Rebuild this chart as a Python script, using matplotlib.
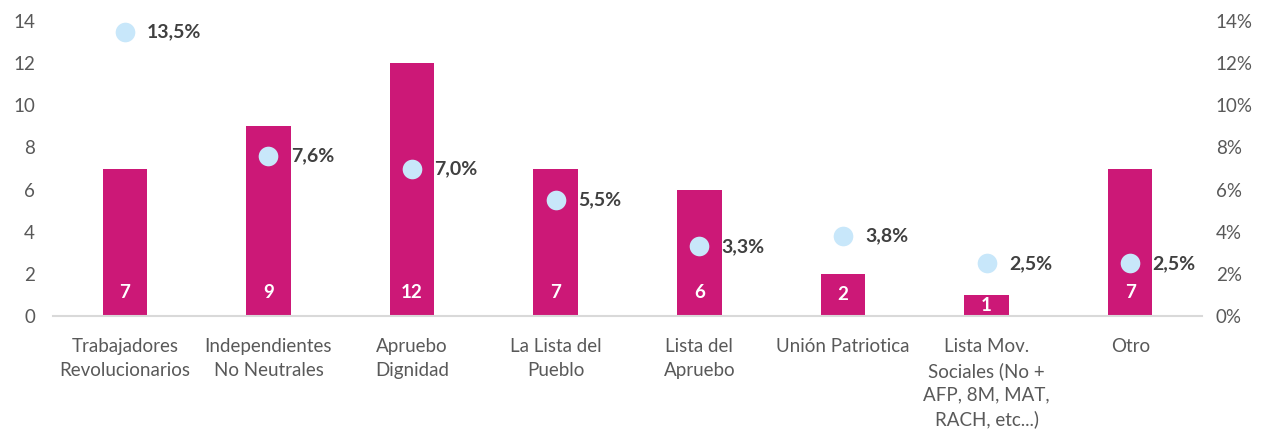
import matplotlib
matplotlib.use("Agg")
import matplotlib.pyplot as plt
import numpy as np

plt.rcParams['font.family'] = ['Lato', 'DejaVu Sans']

categories = ["Trabajadores\nRevolucionarios", "Independientes\nNo Neutrales", "Apruebo\nDignidad",
              "La Lista del\nPueblo", "Lista del\nApruebo", "Unión Patriotica",
              "Lista Mov.\nSociales (No +\nAFP, 8M, MAT,\nRACH, etc...)", "Otro"]
counts = [7, 9, 12, 7, 6, 2, 1, 7]
pcts = [13.5, 7.6, 7.0, 5.5, 3.3, 3.8, 2.5, 2.5]
pct_labels = ["13,5%", "7,6%", "7,0%", "5,5%", "3,3%", "3,8%", "2,5%", "2,5%"]

bar_color = "#CC1877"
dot_color = "#C8E7FA"
text_gray = "#595959"
label_dark = "#404040"

fig = plt.figure(figsize=(12.61, 4.30), dpi=100)
ax = fig.add_axes([53/1261, 1-316/430, (1202-53)/1261, (316-21)/430])
ax2 = ax.twinx()

x = np.arange(len(categories))
ax.bar(x, counts, width=0.31, color=bar_color, zorder=2)
for xi, v in zip(x, counts):
    ax.text(xi, min(v/2, 1.1), str(v), ha='center', va='center', color='white',
            fontsize=13.5, fontweight='bold', zorder=3)

ax.set_xlim(-0.5, len(categories)-0.5)
ax.set_ylim(0, 14)
ax.set_yticks(range(0, 15, 2))
ax.set_xticks(x)
ax.set_xticklabels(categories, fontsize=13.5, color=text_gray, linespacing=1.45)

ax2.set_ylim(0, 14)
ax2.set_yticks(range(0, 15, 2))
ax2.set_yticklabels([f"{t}%" for t in range(0, 15, 2)])
ax2.scatter(x, pcts, s=200, color=dot_color, zorder=4, linewidths=0)
for xi, p, lab in zip(x, pcts, pct_labels):
    ax2.annotate(lab, (xi, p), xytext=(16, 0), textcoords='offset points',
                 ha='left', va='center', fontsize=14, fontweight='bold', color=label_dark)

for a in (ax, ax2):
    for s in ['top', 'left', 'right', 'bottom']:
        a.spines[s].set_visible(False)
    a.tick_params(axis='both', length=0, labelsize=13.5, labelcolor=text_gray)
ax.tick_params(axis='x', pad=16)
ax.tick_params(axis='y', pad=13)
ax2.tick_params(axis='y', pad=10)
ax.spines['bottom'].set_visible(True)
ax.spines['bottom'].set_color("#D9D9D9")
ax.spines['bottom'].set_linewidth(1.5)
ax.set_zorder(ax2.get_zorder()-1)
ax.patch.set_visible(False)
ax2.patch.set_visible(False)

fig.savefig("out.png", dpi=100)
